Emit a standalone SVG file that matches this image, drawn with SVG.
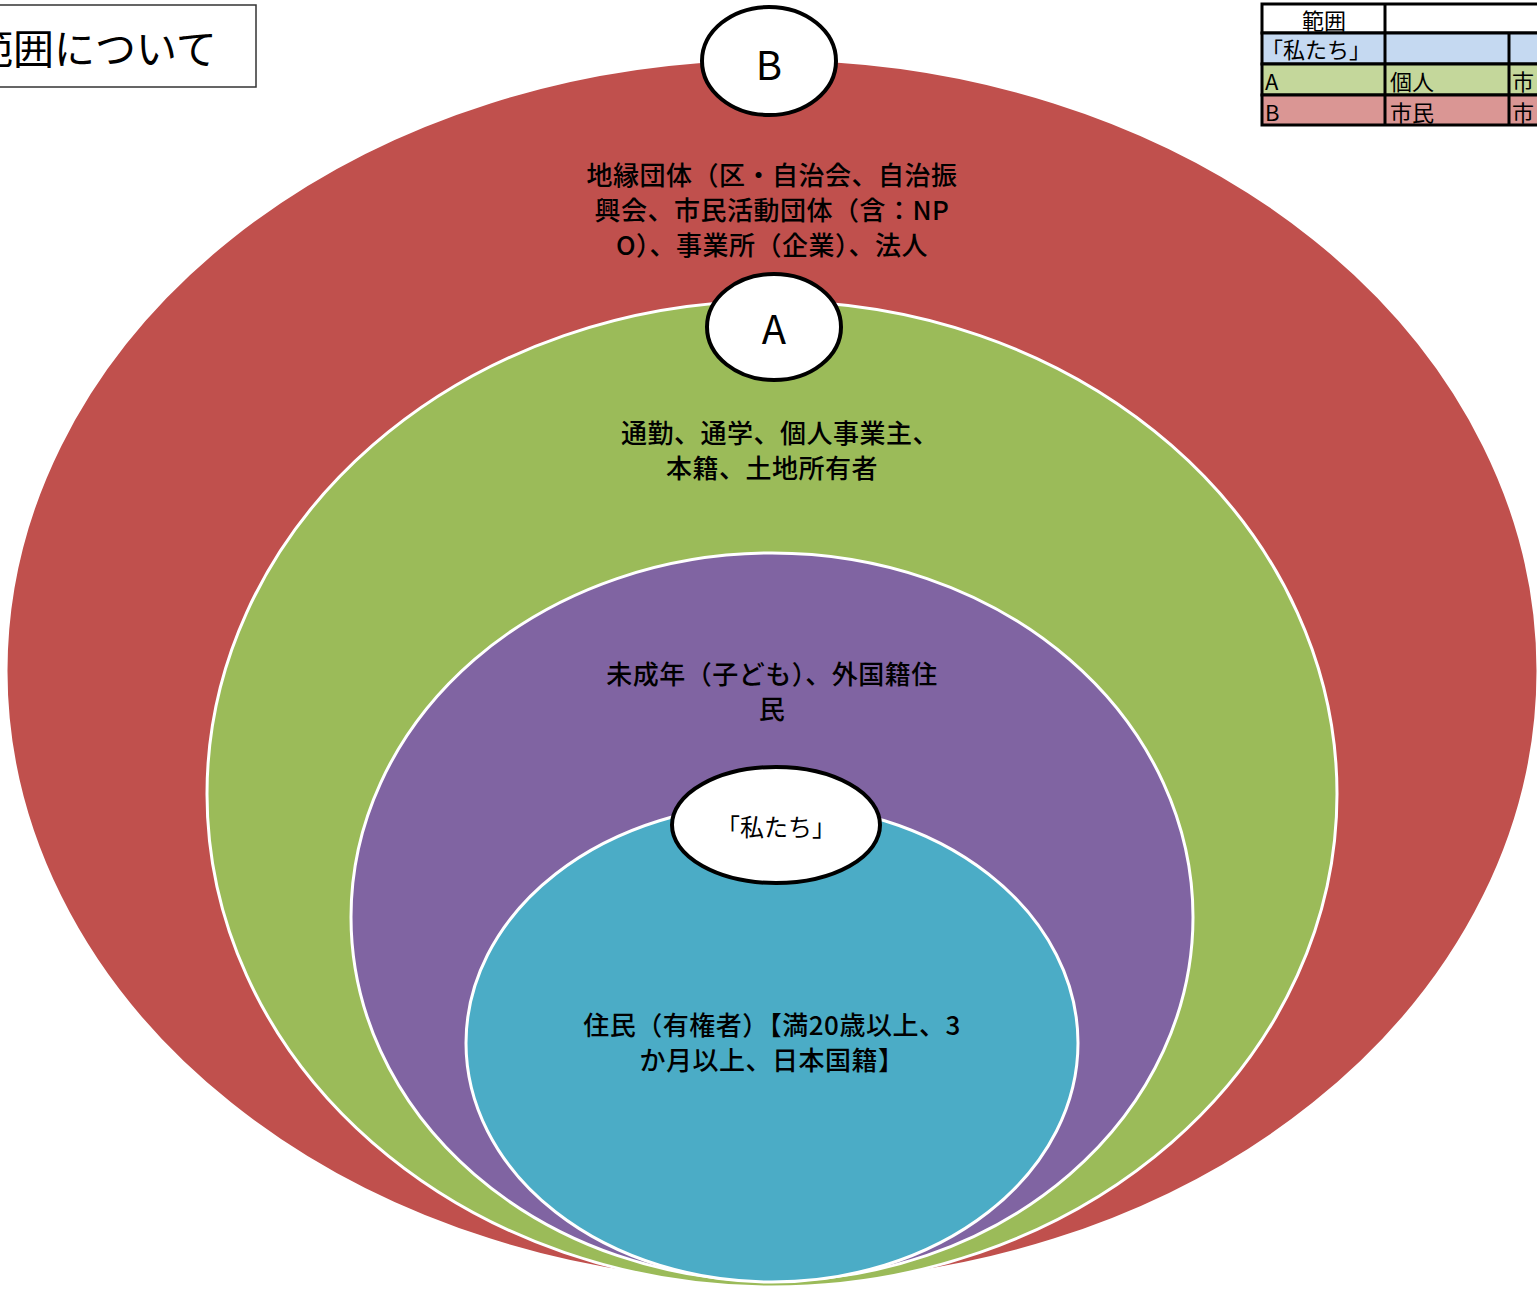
<svg xmlns="http://www.w3.org/2000/svg" width="1537" height="1289" viewBox="0 0 1537 1289">
<style>
.t{font-family:"Noto Sans CJK JP","Noto Sans",sans-serif;fill:#000;text-anchor:middle;dominant-baseline:central}
.tl{font-family:"Noto Sans CJK JP","Noto Sans",sans-serif;fill:#000;dominant-baseline:central}
.m{font-weight:500;font-size:26px;letter-spacing:0.5px}
.ring{stroke:#fff;stroke-width:3}
.lab{fill:#fff;stroke:#000;stroke-width:4}
.cell{stroke:#000;stroke-width:3}
</style>
<rect width="1537" height="1289" fill="#fff"/>
<g id="title">
<rect x="-2" y="5" width="258" height="82" fill="#fff" stroke="#333" stroke-width="1.5"/>
<text class="tl" x="-28" y="46" font-size="41">範囲について</text>
</g>
<g id="table">
<rect class="cell" x="1262" y="4" width="290" height="29" fill="#fff"/>
<rect class="cell" x="1262" y="33" width="290" height="31" fill="#C5D9F1"/>
<rect class="cell" x="1262" y="64" width="290" height="31" fill="#C4D79B"/>
<rect class="cell" x="1262" y="95" width="290" height="30" fill="#DA9694"/>
<line class="cell" x1="1385" y1="4" x2="1385" y2="125"/>
<line class="cell" x1="1509" y1="33" x2="1509" y2="125"/>
<text class="t" x="1324" y="19" font-size="22">範囲</text>
<text class="tl" x="1261" y="48" font-size="22">「私たち」</text>
<text class="tl" x="1265" y="80" font-size="22">A</text>
<text class="tl" x="1390" y="80" font-size="22">個人</text>
<text class="tl" x="1512" y="80" font-size="22">市</text>
<text class="tl" x="1265" y="111" font-size="22">B</text>
<text class="tl" x="1390" y="111" font-size="22">市民</text>
<text class="tl" x="1512" y="111" font-size="22">市</text>
</g>
<g id="nodeB-area">
<ellipse class="ring" cx="772" cy="671" rx="766" ry="612" fill="#C0504D"/>
<text class="t m" x="772" y="173">地縁団体（区・自治会、自治振</text>
<text class="t m" x="772" y="208">興会、市民活動団体（含：NP</text>
<text class="t m" x="772" y="243">O）、事業所（企業）、法人</text>
</g>
<g id="nodeA-area">
<ellipse class="ring" cx="772" cy="794" rx="565" ry="493" fill="#9BBB59"/>
<text class="t m" x="780" y="431">通勤、通学、個人事業主、</text>
<text class="t m" x="772" y="466">本籍、土地所有者</text>
</g>
<g id="nodeMinor-area">
<ellipse class="ring" cx="772" cy="917" rx="421" ry="364" fill="#8064A2"/>
<text class="t m" x="772" y="672">未成年（子ども）、外国籍住</text>
<text class="t m" x="772" y="707">民</text>
</g>
<g id="nodeWe-area">
<ellipse class="ring" cx="772" cy="1043" rx="306" ry="239" fill="#4BACC6"/>
<text class="t m" x="772" y="1023">住民（有権者）【満20歳以上、3</text>
<text class="t m" x="772" y="1058">か月以上、日本国籍】</text>
</g>
<g id="labelB">
<ellipse class="lab" cx="769" cy="61" rx="67" ry="54"/>
<text class="t" x="769" y="63" font-size="40">B</text>
</g>
<g id="labelA">
<ellipse class="lab" cx="774" cy="327" rx="67" ry="53"/>
<text class="t" x="774" y="327" font-size="40">A</text>
</g>
<g id="labelWe">
<ellipse class="lab" cx="776" cy="825" rx="104" ry="58"/>
<text class="t" x="776" y="825" font-size="24">「私たち」</text>
</g>
<g id="connectors"/>
</svg>
